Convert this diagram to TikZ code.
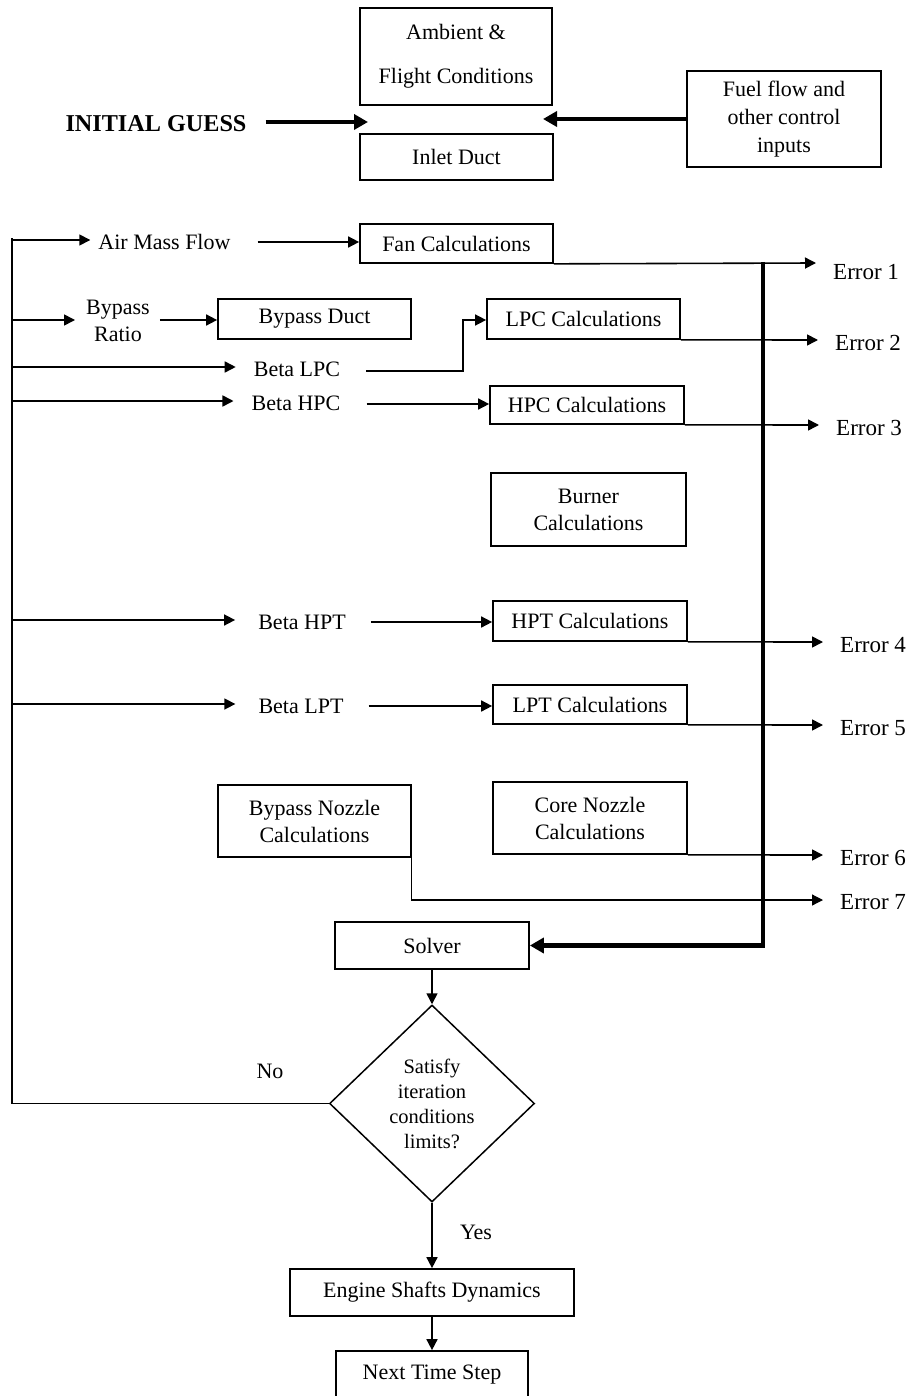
\documentclass[tikz,border=0pt]{standalone}
\usepackage{fontspec}
\setmainfont{Liberation Serif}
\usetikzlibrary{arrows.meta,shapes.geometric,calc}
\begin{document}
\begin{tikzpicture}[x=1pt,y=-1pt,
  box/.style={draw,line width=1.7pt,inner sep=0pt,align=center,font=\fontsize{22}{27}\selectfont},
  lbl/.style={inner sep=0pt,align=center,font=\fontsize{22}{27}\selectfont},
  err/.style={inner sep=0pt,anchor=west,font=\fontsize{23}{27}\selectfont},
  arr/.style={line width=1.6pt,-{Triangle[length=11pt,width=11pt]}},
  thinline/.style={line width=1.4pt},
  fat/.style={line width=4.5pt,-{Triangle[length=14pt,width=15pt]}}]
\useasboundingbox (0,0) rectangle (911,1396);

% top section
\node[box,minimum width=192pt,minimum height=97pt] (amb) at (456,56.5) {Ambient \&\\[17pt]Flight Conditions};
\node[box,minimum width=193pt,minimum height=46pt] (inlet) at (456.5,157) {Inlet Duct};
\node[box,minimum width=194pt,minimum height=96pt,font=\fontsize{22}{28}\selectfont] (fuel) at (784,119) {Fuel flow and\\other control\\inputs};
\node[lbl,font=\fontsize{24.2}{27}\bfseries] (ig) at (156,124) {INITIAL GUESS};
\coordinate (igend) at (368,122);
\coordinate (ffend) at (543,119);
\draw[fat] ([xshift=19pt]ig.east |- igend) -- (igend);
\draw[fat] (fuel.west |- ffend) -- (ffend);

% left feedback line
\coordinate (Ltop) at (12,238);

% Air mass flow row
\node[lbl] (amf) at (164.5,242) {Air Mass Flow};
\node[box,minimum width=193pt,minimum height=39pt] (fan) at (456.5,243.5) {Fan Calculations};
\draw[arr] (12,240) -- ([xshift=-8pt]amf.west |- 0,240);
\draw[arr] ([xshift=27pt]amf.east) -- (fan.west |- amf.east);

% Bypass row
\node[lbl] (bpr) at (118,321) {Bypass\\Ratio};
\node[box,minimum width=193pt,minimum height=40pt] (bpd) at (314.5,319) {Bypass Duct};
\node[box,minimum width=193pt,minimum height=40pt] (lpc) at (583.5,319) {LPC Calculations};
\draw[arr] (12,320) -- ([xshift=-11pt]bpr.west |- 0,320);
\draw[arr] ([xshift=10pt]bpr.east |- 0,320) -- (bpd.west |- 0,320);

% Beta LPC
\node[lbl] (blpc) at (297,369) {Beta LPC};
\draw[arr] (12,367) -- ([xshift=-18pt]blpc.west |- 0,367);
\draw[thinline,-{Triangle[length=11pt,width=11pt]}] ([xshift=26pt]blpc.east |- 0,371) -- (463,371) -- (463,320) -- (lpc.west |- 0,320);

% Beta HPC
\node[lbl] (bhpc) at (296,403) {Beta HPC};
\node[box,minimum width=194pt,minimum height=38pt] (hpc) at (587,405) {HPC Calculations};
\draw[arr] (12,401) -- ([xshift=-18pt]bhpc.west |- 0,401);
\draw[arr] ([xshift=26pt]bhpc.east |- 0,404) -- (hpc.west |- 0,404);

% Burner
\node[box,minimum width=195pt,minimum height=73pt] (burn) at (588.5,509.5) {Burner\\Calculations};

% Beta HPT
\node[lbl] (bhpt) at (302,622) {Beta HPT};
\node[box,minimum width=194pt,minimum height=40pt] (hpt) at (590,621) {HPT Calculations};
\draw[arr] (12,620) -- ([xshift=-23pt]bhpt.west |- 0,620);
\draw[arr] ([xshift=25pt]bhpt.east |- 0,622) -- (hpt.west |- 0,622);

% Beta LPT
\node[lbl] (blpt) at (301,706) {Beta LPT};
\node[box,minimum width=194pt,minimum height=39pt] (lpt) at (590,704.5) {LPT Calculations};
\draw[arr] (12,704) -- ([xshift=-23pt]blpt.west |- 0,704);
\draw[arr] ([xshift=25pt]blpt.east |- 0,706) -- (lpt.west |- 0,706);

% Nozzles
\node[box,minimum width=193pt,minimum height=72pt] (bn) at (314.5,821) {Bypass Nozzle\\Calculations};
\node[box,minimum width=194pt,minimum height=72pt] (cn) at (590,818) {Core Nozzle\\Calculations};

% Errors
\node[err] (e1) at (833,272) {Error 1};
\node[err] (e2) at (835,343) {Error 2};
\node[err] (e3) at (836,428) {Error 3};
\node[err] (e4) at (840,645) {Error 4};
\node[err] (e5) at (840,728) {Error 5};
\node[err] (e6) at (840,858) {Error 6};
\node[err] (e7) at (840,902) {Error 7};

% Solver and thick bus
\node[box,minimum width=194pt,minimum height=47pt] (solver) at (432,945.5) {Solver};
\coordinate (bustop) at (763,262);
\draw[fat] (bustop) |- (solver.east);

\draw[arr] (fan.south east) -- (816,263);
\draw[arr] (lpc.south east) -- (818,340);
\draw[arr] (hpc.south east) -- (819,425);
\draw[arr] (hpt.south east) -- (823,642);
\draw[arr] (lpt.south east) -- (823,725);
\draw[arr] (cn.south east) -- (823,855);
\draw[line width=1.2pt,-{Triangle[length=11pt,width=11pt]}] (bn.south east) |- (823,900);

% Decision
\node[draw,diamond,line width=1.5pt,inner sep=0pt,aspect=1.04,minimum width=205pt,minimum height=197pt,align=center,font=\fontsize{20.5}{25}\selectfont] (dia) at (432,1103.5) {Satisfy\\iteration\\conditions\\limits?};
\draw[arr] (solver.south) -- (dia.north);
\draw[thinline] (dia.west) -| (Ltop);
\node[lbl] (no) at (270,1071) {No};
\node[lbl] (yes) at (476,1232) {Yes};

\node[box,minimum width=284pt,minimum height=47pt] (esd) at (432,1292.5) {Engine Shafts Dynamics};
\node[box,minimum width=192pt,minimum height=48pt] (nts) at (432,1375) {Next Time Step};
\draw[arr] (dia.south) -- (esd.north);
\draw[arr] (esd.south) -- (nts.north);
\end{tikzpicture}
\end{document}
